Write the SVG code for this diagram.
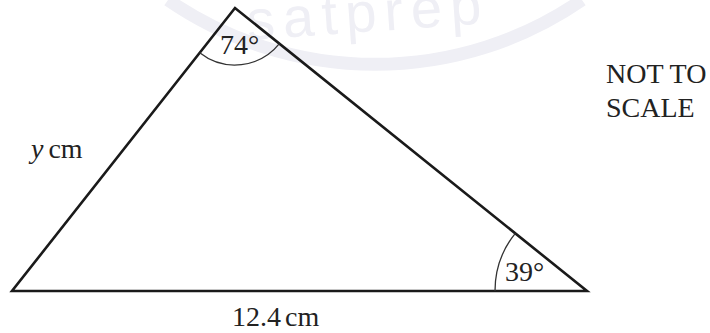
<svg xmlns="http://www.w3.org/2000/svg" width="710" height="333" viewBox="0 0 710 333">
<style>
.t{font-family:"Liberation Serif","Times New Roman",serif;font-size:28px;fill:#222}
.side{stroke:#1a1a1a;stroke-width:2.6;fill:none;stroke-linejoin:miter}
.arc{stroke:#333;stroke-width:1.3;fill:none}
.wm{fill:none;stroke:#efeff5;stroke-width:13}
.wmt{font-family:"Liberation Sans",Arial,sans-serif;font-size:56px;fill:#efeff5}
</style>
<rect width="710" height="333" fill="#fff"/>
<g id="watermark">
<path class="wm" d="M 168 0 A 365 365 0 0 0 582 0"/>
<text class="wmt" x="248" y="40" transform="rotate(-4 248 40)" letter-spacing="8">satprep</text>
</g>
<g id="triangle">
<polygon class="side" points="235,8 12,291 587,291"/>
</g>
<g id="angles">
<path class="arc" d="M 199.7 52.8 A 57 57 0 0 0 279.4 43.7"/>
<path class="arc" d="M 495 291 A 92 92 0 0 1 515.3 233.3"/>
</g>
<g id="labels">
<text class="t" x="220" y="54">74°</text>
<text class="t" x="505" y="281">39°</text>
<text class="t" x="31" y="158"><tspan font-style="italic">y</tspan><tspan dx="5">cm</tspan></text>
<text class="t" x="232" y="326">12.4<tspan dx="4">cm</tspan></text>
<text class="t" x="606" y="83">NOT TO</text>
<text class="t" x="606" y="117">SCALE</text>
</g>
</svg>
